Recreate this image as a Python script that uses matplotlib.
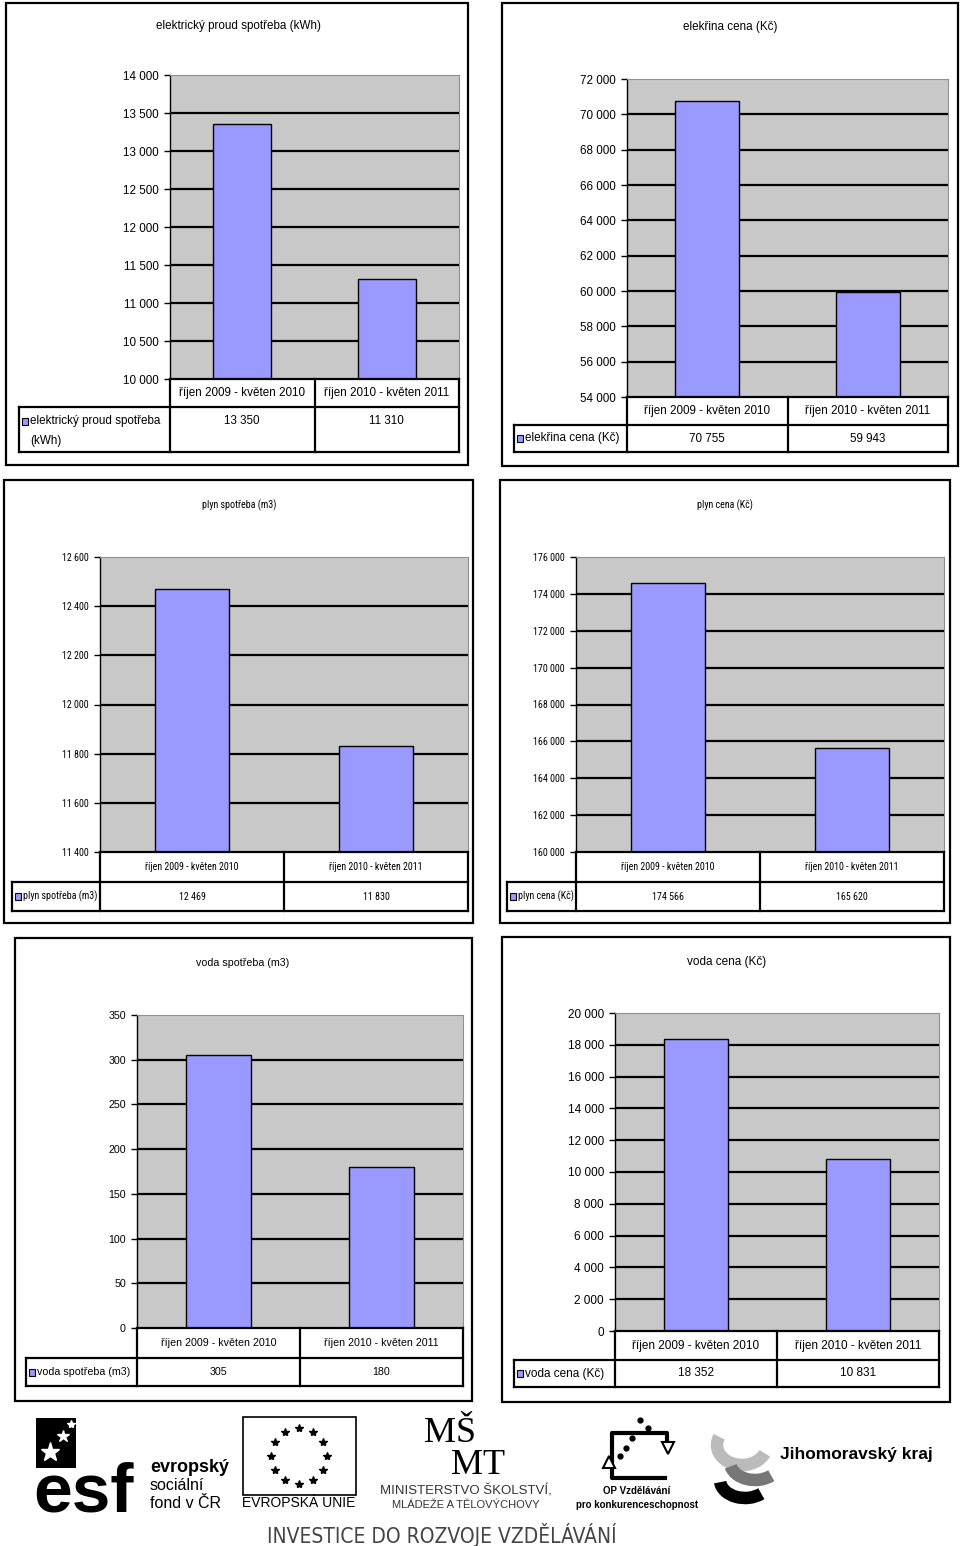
import numpy as np
import matplotlib
matplotlib.use("Agg")
import matplotlib.pyplot as plt
from matplotlib.patches import Rectangle, Arc

W, H = 960, 1546

# ---------------- data ----------------
periods = ["říjen 2009 - květen 2010", "říjen 2010 - květen 2011"]

elec_kwh = [13350, 11310]
elec_czk = [70755, 59943]
gas_m3 = [12469, 11830]
gas_czk = [174566, 165620]
water_m3 = [305, 180]
water_czk = [18352, 10831]

titles = ["elektrický proud spotřeba (kWh)", "elekřina cena (Kč)",
          "plyn spotřeba (m3)", "plyn cena (Kč)",
          "voda spotřeba (m3)", "voda cena (Kč)"]
legend_labels = [["elektrický proud spotřeba", "(kWh)"], ["elekřina cena (Kč)"],
                 ["plyn spotřeba (m3)"], ["plyn cena (Kč)"],
                 ["voda spotřeba (m3)"], ["voda cena (Kč)"]]
y_ranges = [(10000, 14000, 500), (54000, 72000, 2000),
            (11400, 12600, 200), (160000, 176000, 2000),
            (0, 350, 50), (0, 20000, 2000)]

BAR = "#9999FF"
PLOT_BG = "#C8C8C8"
SANS = ["Liberation Sans", "DejaVu Sans"]
NARROW = ["Roboto Condensed", "DejaVu Sans"]

fig = plt.figure(figsize=(W / 100, H / 100), dpi=100)
ov = fig.add_axes([0, 0, 1, 1], zorder=5)
ov.set_xlim(0, W)
ov.set_ylim(H, 0)
ov.axis("off")
ov.patch.set_alpha(0)


def fmt(v):
    return f"{v:,}".replace(",", " ")


def line(x0, y0, x1, y1, lw=1.6, color="black"):
    ov.plot([x0, x1], [y0, y1], color=color, lw=lw, solid_capstyle="projecting")


def panel(values, title, labels, yr, box, title_xy, plot, cat_b, data_b, data_l,
          fam, fs, stretch="normal", value_y=None):
    kw = dict(fontsize=fs, family=fam, fontstretch=stretch)
    bx0, by0, bx1, by1 = box
    ov.add_patch(Rectangle((bx0, by0), bx1 - bx0, by1 - by0, fill=False,
                           ec="black", lw=1.6))
    ov.text(title_xy[0], title_xy[1], title, ha="center", va="center", **kw)
    l, t, r, b = plot
    ax = fig.add_axes([l / W, 1 - b / H, (r - l) / W, (b - t) / H])
    ax.set_facecolor(PLOT_BG)
    lo, hi, step = yr
    ax.set_xlim(-0.5, 1.5)
    ax.set_ylim(lo, hi)
    ticks = np.arange(lo, hi + step / 2, step)
    ax.set_yticks(ticks)
    ax.set_yticklabels([fmt(int(v)) for v in ticks], **kw)
    ax.set_xticks([])
    ax.hlines(ticks[1:-1], -0.5, 1.5, color="black", lw=1.6, zorder=1)
    vals = np.asarray(values, dtype=float)
    ax.bar([0, 1], vals - lo, width=0.4, bottom=lo, color=BAR,
           edgecolor="black", lw=1.0, zorder=2)
    for s in ["top", "right"]:
        ax.spines[s].set_color("#909090")
        ax.spines[s].set_linewidth(0.8)
    ax.spines["left"].set_linewidth(1.0)
    ax.spines["bottom"].set_linewidth(1.6)
    ax.tick_params(axis="y", direction="out", length=4, width=1.0, pad=4)

    # data table
    mid = (l + r) / 2
    line(l, b, l, cat_b)
    line(mid, b, mid, data_b)
    line(r, b, r, data_b)
    line(data_l, cat_b, r, cat_b)
    line(data_l, data_b, r, data_b)
    line(data_l, cat_b, data_l, data_b)
    line(l, cat_b, l, data_b)
    cy = (b + cat_b) / 2
    ov.text((l + mid) / 2, cy, periods[0], ha="center", va="center", **kw)
    ov.text((mid + r) / 2, cy, periods[1], ha="center", va="center", **kw)
    if value_y is None:
        value_y = (cat_b + data_b) / 2
    ov.text((l + mid) / 2, value_y, fmt(values[0]), ha="center", va="center",
            **kw)
    ov.text((mid + r) / 2, value_y, fmt(values[1]), ha="center", va="center",
            **kw)
    ov.add_patch(Rectangle((data_l + 3, value_y - 3.5), 6, 7, fc=BAR,
                           ec="black", lw=0.8))
    ov.text(data_l + 11, value_y, labels[0], ha="left", va="center", **kw)
    if len(labels) > 1:
        ov.text(data_l + 11, value_y + 20, labels[1], ha="left", va="center",
                **kw)
    return ax


panel(elec_kwh, titles[0], legend_labels[0], y_ranges[0], (6, 3, 468, 465),
      (238, 26), (170, 75, 459, 379), 407, 452, 19, SANS, 8.4, value_y=421)
panel(elec_czk, titles[1], legend_labels[1], y_ranges[1], (502, 3, 958, 466),
      (730, 27), (627, 79, 948, 397), 425, 452, 514, SANS, 8.4)
panel(gas_m3, titles[2], legend_labels[2], y_ranges[2], (4, 480, 473, 923),
      (239, 505), (100, 557, 468, 852), 882, 911, 12, NARROW, 7.2,
      stretch="condensed")
panel(gas_czk, titles[3], legend_labels[3], y_ranges[3], (500, 480, 950, 923),
      (725, 505), (576, 557, 944, 852), 882, 911, 507, NARROW, 7.2,
      stretch="condensed")
panel(water_m3, titles[4], legend_labels[4], y_ranges[4], (15, 938, 472, 1401),
      (243, 963), (137, 1015, 463, 1328), 1358, 1386, 26, SANS, 7.7)
panel(water_czk, titles[5], legend_labels[5], y_ranges[5], (502, 937, 950, 1402),
      (727, 962), (615, 1013, 939, 1331), 1360, 1387, 514, SANS, 8.5)

# ---------------- logos (approximate) ----------------
# ESF
ov.add_patch(Rectangle((36, 1418), 40, 50, fc="black", ec="none"))
for (sx, sy, ss) in [(50, 1452, 14), (63, 1436, 9), (71, 1424, 6)]:
    ov.plot(sx, sy, marker="*", ms=ss, color="white", mec="white")
ov.text(33, 1512, "esf", ha="left", va="baseline", fontsize=50,
        fontweight="bold", family=SANS, color="black")
ov.text(150, 1468, "evropský", ha="left", va="center", fontsize=13,
        fontweight="bold", family=SANS)
ov.text(150, 1486, "sociální", ha="left", va="center", fontsize=11.5,
        family=SANS)
ov.text(150, 1503, "fond v ČR", ha="left", va="center", fontsize=11.5,
        family=SANS)

# EU flag
ov.add_patch(Rectangle((243, 1417), 113, 78, fill=False, ec="black", lw=1.2))
ang = np.linspace(0, 2 * np.pi, 12, endpoint=False)
ov.plot(299 + 28 * np.cos(ang), 1456 + 28 * np.sin(ang), ls="none",
        marker="*", ms=6, color="black")
ov.text(299, 1503, "EVROPSKÁ UNIE", ha="center", va="center", fontsize=10,
        family=SANS)

# MSMT
ov.text(450, 1433, "MŠ", ha="center", va="center", fontsize=26,
        family=["Liberation Serif", "DejaVu Serif"])
ov.text(478, 1465, "MT", ha="center", va="center", fontsize=26,
        family=["Liberation Serif", "DejaVu Serif"])
ov.text(466, 1491, "MINISTERSTVO ŠKOLSTVÍ,", ha="center", va="center",
        fontsize=9.5, family=SANS, color="#333333")
ov.text(466, 1505, "MLÁDEŽE A TĚLOVÝCHOVY", ha="center", va="center",
        fontsize=8, family=SANS, color="#333333")

# OP Vzdelavani
ov.plot([612, 612, 667, 667], [1460, 1433, 1433, 1440], color="black", lw=3)
ov.plot([612, 612, 665], [1463, 1478, 1478], color="black", lw=3)
ov.plot(668, 1448, marker="v", ms=9, mfc="white", mec="black", mew=1.5)
ov.plot(609, 1462, marker="^", ms=9, mfc="white", mec="black", mew=1.5)
ov.plot([640, 648, 632, 626, 620], [1420, 1428, 1438, 1448, 1456], ls="none",
        marker="o", ms=3.5, color="black")
ov.text(637, 1491, "OP Vzdělávání", ha="center", va="center", fontsize=7,
        fontweight="bold", family=SANS)
ov.text(637, 1505, "pro konkurenceschopnost", ha="center", va="center",
        fontsize=7, fontweight="bold", family=SANS)

# Jihomoravsky kraj
ov.add_patch(Arc((742, 1445), 50, 40, theta1=20, theta2=200, lw=9,
                 color="#BBBBBB"))
ov.add_patch(Arc((755, 1462), 50, 36, theta1=40, theta2=170, lw=9,
                 color="#777777"))
ov.add_patch(Arc((745, 1480), 50, 36, theta1=40, theta2=175, lw=9,
                 color="black"))
ov.text(780, 1455, "Jihomoravský kraj", ha="left", va="center", fontsize=12.5,
        fontweight="bold", family=SANS)

ov.text(442, 1535, "INVESTICE DO ROZVOJE VZDĚLÁVÁNÍ", ha="center",
        va="center", fontsize=15, family=["DejaVu Sans"], fontstretch="condensed",
        color="#444444")

fig.savefig("out.png", dpi=100)
